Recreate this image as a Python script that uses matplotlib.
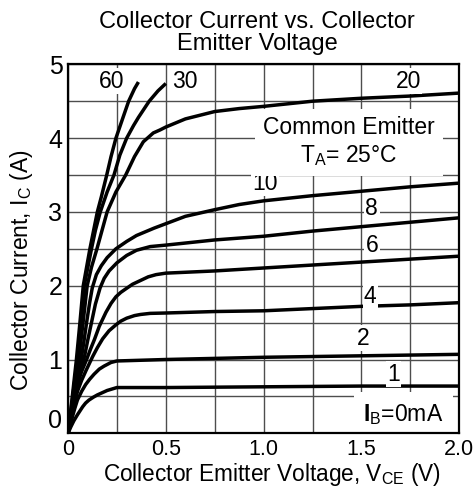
import matplotlib
matplotlib.use("Agg")
import matplotlib.pyplot as plt

plt.rcParams['font.family'] = ['Liberation Sans', 'DejaVu Sans']
plt.rcParams['mathtext.fontset'] = 'custom'
plt.rcParams['mathtext.rm'] = 'Liberation Sans'
plt.rcParams['mathtext.it'] = 'Liberation Sans:italic'
plt.rcParams['mathtext.bf'] = 'Liberation Sans:bold'
plt.rcParams['mathtext.default'] = 'regular'

# ---- data ----
vce_1 = [0, 0.015, 0.03, 0.048, 0.075, 0.09, 0.107, 0.13, 0.15, 0.2, 0.25, 0.5, 1.0, 1.5, 2.0]
ic_1 = [0, 0.09, 0.17, 0.25, 0.36, 0.41, 0.45, 0.49, 0.52, 0.58, 0.62, 0.62, 0.63, 0.64, 0.64]

vce_2 = [0, 0.01, 0.02, 0.035, 0.048, 0.07, 0.09, 0.11, 0.133, 0.16, 0.184, 0.22, 0.25, 0.5, 1.0, 1.5, 2.0]
ic_2 = [0, 0.1, 0.2, 0.34, 0.45, 0.57, 0.66, 0.73, 0.80, 0.87, 0.91, 0.96, 0.98, 1.0, 1.03, 1.05, 1.07]

vce_4 = [0, 0.01, 0.02, 0.035, 0.05, 0.07, 0.092, 0.126, 0.15, 0.177, 0.21, 0.245, 0.27, 0.30,
         0.34, 0.37, 0.42, 0.5, 0.75, 1.0, 1.25, 1.5, 1.75, 2.0]
ic_4 = [0, 0.14, 0.26, 0.44, 0.58, 0.72, 0.85, 1.04, 1.16, 1.28, 1.39, 1.47, 1.52, 1.56,
        1.595, 1.61, 1.625, 1.63, 1.65, 1.66, 1.69, 1.72, 1.74, 1.77]

vce_6 = [0, 0.01, 0.02, 0.035, 0.05, 0.07, 0.095, 0.115, 0.135, 0.16, 0.194, 0.22, 0.245, 0.27,
         0.297, 0.33, 0.37, 0.41, 0.45, 0.5, 0.75, 1.0, 1.25, 1.5, 1.75, 2.0]
ic_6 = [0, 0.15, 0.3, 0.5, 0.68, 0.84, 1.0, 1.14, 1.27, 1.45, 1.64, 1.76, 1.85, 1.91,
        1.96, 2.02, 2.07, 2.12, 2.15, 2.17, 2.20, 2.24, 2.28, 2.32, 2.36, 2.40]

vce_8 = [0, 0.01, 0.02, 0.035, 0.05, 0.065, 0.085, 0.1, 0.12, 0.14, 0.164, 0.185, 0.21, 0.25,
         0.3, 0.35, 0.42, 0.5, 0.75, 1.0, 1.25, 1.5, 1.75, 2.0]
ic_8 = [0, 0.15, 0.3, 0.5, 0.68, 0.85, 1.05, 1.25, 1.5, 1.75, 1.97, 2.1, 2.2, 2.31,
        2.41, 2.48, 2.53, 2.55, 2.62, 2.67, 2.74, 2.80, 2.86, 2.92]

vce_10 = [0, 0.015, 0.03, 0.05, 0.067, 0.08, 0.095, 0.11, 0.124, 0.145, 0.17, 0.2, 0.245, 0.3,
          0.35, 0.44, 0.5, 0.6, 0.75, 0.875, 1.0, 1.25, 1.5, 1.75, 2.0]
ic_10 = [0, 0.22, 0.45, 0.75, 1.0, 1.22, 1.5, 1.76, 1.97, 2.15, 2.27, 2.38, 2.5, 2.6,
         2.68, 2.78, 2.84, 2.94, 3.03, 3.10, 3.15, 3.22, 3.28, 3.34, 3.39]

vce_20 = [0, 0.025, 0.055, 0.077, 0.098, 0.12, 0.148, 0.175, 0.2, 0.245, 0.295, 0.34, 0.385,
          0.436, 0.47, 0.5, 0.6, 0.75, 0.875, 1.0, 1.25, 1.5, 1.75, 2.0]
ic_20 = [0, 0.45, 1.0, 1.5, 2.0, 2.25, 2.5, 2.76, 3.0, 3.27, 3.5, 3.75, 3.95,
         4.07, 4.11, 4.15, 4.26, 4.36, 4.40, 4.43, 4.5, 4.54, 4.57, 4.61]

vce_30 = [0, 0.022, 0.048, 0.067, 0.083, 0.12, 0.14, 0.165, 0.2, 0.235, 0.265, 0.30, 0.335,
          0.36, 0.415, 0.46, 0.5]
ic_30 = [0, 0.45, 1.0, 1.5, 2.0, 2.5, 2.75, 3.0, 3.27, 3.5, 3.77, 4.0, 4.17,
         4.28, 4.5, 4.64, 4.74]

vce_60 = [0, 0.02, 0.043, 0.061, 0.078, 0.112, 0.15, 0.17, 0.198, 0.22, 0.245, 0.28, 0.31, 0.34, 0.36]
ic_60 = [0, 0.45, 1.0, 1.5, 2.0, 2.5, 3.0, 3.2, 3.5, 3.75, 4.0, 4.27, 4.5, 4.67, 4.76]

curve_labels = ['60', '30', '20', '10', '8', '6', '4', '2', '1']
label_x = [0.223, 0.598, 1.739, 1.008, 1.553, 1.553, 1.545, 1.51, 1.664]
label_y = [4.77, 4.77, 4.77, 3.39, 3.05, 2.54, 1.86, 1.29, 0.80]

x_ticks = [0, 0.5, 1.0, 1.5, 2.0]
x_ticklabels = ['0', '0.5', '1.0', '1.5', '2.0']
y_ticks = [0, 1, 2, 3, 4, 5]
y_ticklabels = ['0', '1', '2', '3', '4', '5']
x_minor = [0.25, 0.75, 1.25, 1.75]
y_minor = [0.5, 1.5, 2.5, 3.5, 4.5]

title_lines = ['Collector Current vs. Collector', 'Emitter Voltage']

# ---- figure ----
H = 487.0
fig = plt.figure(figsize=(4.76, 4.87), dpi=100)
ax = fig.add_axes([68/476, (H-433.3)/H, (459.3-68)/476, (433.3-64.3)/H])

curves = [(vce_1, ic_1), (vce_2, ic_2), (vce_4, ic_4), (vce_6, ic_6), (vce_8, ic_8),
          (vce_10, ic_10), (vce_20, ic_20), (vce_30, ic_30), (vce_60, ic_60)]
for xs, ys in curves:
    ax.plot(xs, ys, color='black', lw=2.5, solid_joinstyle='round', solid_capstyle='butt', zorder=3)

ax.set_xlim(0, 2.0)
ax.set_ylim(0, 5)
ax.set_xticks(x_ticks)
ax.set_xticklabels(x_ticklabels, fontsize=15.5)
ax.set_yticks(y_ticks)
ax.set_yticklabels(y_ticklabels, fontsize=18)
ax.set_xticks(x_minor, minor=True)
ax.set_yticks(y_minor, minor=True)
ax.tick_params(which='both', length=0)
ax.tick_params(axis='x', pad=4)
ax.tick_params(axis='y', pad=4)
ax.get_yticklabels()[0].set_va('bottom')
ax.grid(True, which='both', color='#4d4d4d', lw=1.0, zorder=1)
ax.set_axisbelow(True)
for s in ax.spines.values():
    s.set_linewidth(1.6)
    s.set_color('black')
    s.set_zorder(5)

bb = dict(facecolor='white', edgecolor='none', pad=1.0)
for t, x, y in zip(curve_labels, label_x, label_y):
    ax.text(x, y, t, fontsize=16.5, ha='center', va='center', bbox=bb, zorder=4)

ax.text(1.437, 3.95, 'Common Emitter\n$T_A$= 25°C', fontsize=16.5, ha='center', va='center',
        linespacing=1.2, bbox=dict(facecolor='white', edgecolor='none', pad=6), zorder=4)
ax.text(1.714, 0.26, r'$\mathbf{I}_B$=0mA', fontsize=16.5, ha='center', va='center',
        bbox=dict(facecolor='white', edgecolor='none', pad=7), zorder=4)

fig.text(257/476, 1 - 27.7/H, title_lines[0], fontsize=17, ha='center', va='baseline')
fig.text(257/476, 1 - 50/H, title_lines[1], fontsize=17, ha='center', va='baseline')
fig.text(271.5/476, 1 - 481/H, 'Collector Emitter Voltage, $V_{CE}$ (V)', fontsize=16.3,
         ha='center', va='baseline')
fig.text(22/476, 1 - 270/H, 'Collector Current, $I_C$ (A)', fontsize=16.5,
         ha='center', va='center', rotation=90)

fig.savefig('out.png', dpi=100)
